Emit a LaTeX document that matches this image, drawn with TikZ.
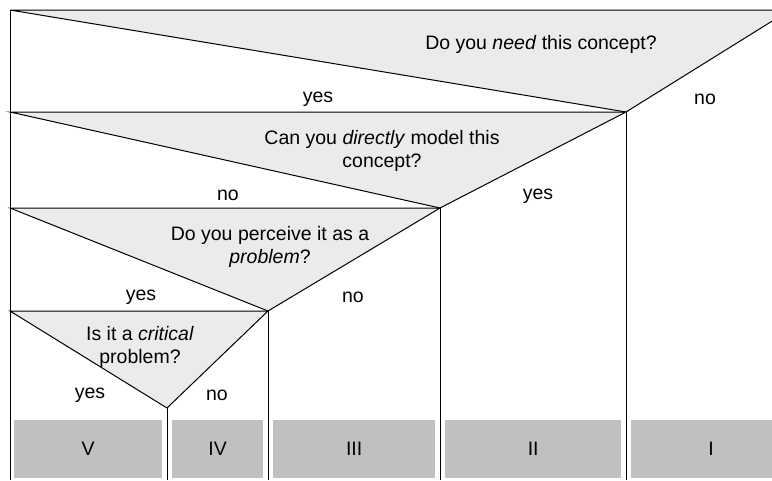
\documentclass[tikz,border=0pt]{standalone}
\usepackage{fontspec}
\setmainfont{Liberation Sans}
\begin{document}
\begin{tikzpicture}[x=1pt,y=-1pt,
  tri/.style={fill=triGray,draw=black,line width=1pt,line join=miter},
  ln/.style={draw=black,line width=1pt},
  outbox/.style={fill=boxGray,draw=none,minimum height=58pt,inner sep=0pt,anchor=north west,font=\fontsize{19.5}{23}\selectfont},
  lbl/.style={font=\fontsize{19.5}{23}\selectfont,inner sep=0pt},
  q/.style={font=\fontsize{19.5}{23}\selectfont,inner sep=0pt,align=center}]
\definecolor{triGray}{HTML}{EBEBEB}
\definecolor{boxGray}{HTML}{C0C0C0}
\useasboundingbox (0,0) rectangle (772,480);
\clip (0,0) rectangle (772,480);
\fill[white] (0,0) rectangle (772,480);
% coordinates
\coordinate (tl) at (10,10);
\coordinate (tr) at (790,10);
\coordinate (a1) at (626,112);
\coordinate (l1) at (10,112);
\coordinate (a2) at (440,208);
\coordinate (l2) at (10,208);
\coordinate (a3) at (268,311);
\coordinate (l3) at (10,311);
\coordinate (a4) at (167,408);
\coordinate (b0) at (10,480);
\coordinate (b1) at (626,480);
\coordinate (b2) at (440,480);
\coordinate (b3) at (268,480);
\coordinate (b4) at (167,480);
% triangles
\draw[tri] (tl) -- (tr) -- (a1) -- cycle;
\draw[tri] (l1) -- (a1) -- (a2) -- cycle;
\draw[tri] (l2) -- (a2) -- (a3) -- cycle;
\draw[tri] (l3) -- (a3) -- (a4) -- cycle;
% verticals
\draw[ln] (tl) -- (b0);
\draw[ln] (a1) -- (b1);
\draw[ln] (a2) -- (b2);
\draw[ln] (a3) -- (b3);
\draw[ln] (a4) -- (b4);
% boxes
\node[outbox,minimum width=148pt] (V) at (14,420) {V};
\node[outbox,minimum width=91pt] (IV) at (172,420) {IV};
\node[outbox,minimum width=162pt] (III) at (273,420) {III};
\node[outbox,minimum width=176pt] (II) at (445,420) {II};
\node[outbox,minimum width=160pt] (I) at (631,420) {I};
% questions
\node[q] (q1) at (541,44) {Do you \textit{need} this concept?};
\node[q] (q2) at (382,151) {Can you \textit{directly} model this\\concept?};
\node[q] (q3) at (270,247) {Do you perceive it as a\\\textit{problem}?};
\node[q] (q4) at (140,347) {Is it a \textit{critical}\\problem?};
% answers
\node[lbl] (y1) at (318,99) {yes};
\node[lbl] (n1) at (705,99) {no};
\node[lbl] (n2) at (228,195) {no};
\node[lbl] (y2) at (538,196) {yes};
\node[lbl] (y3) at (141,297) {yes};
\node[lbl] (n3) at (353,297) {no};
\node[lbl] (y4) at (90,395) {yes};
\node[lbl] (n4) at (217,395) {no};
\end{tikzpicture}
\end{document}
